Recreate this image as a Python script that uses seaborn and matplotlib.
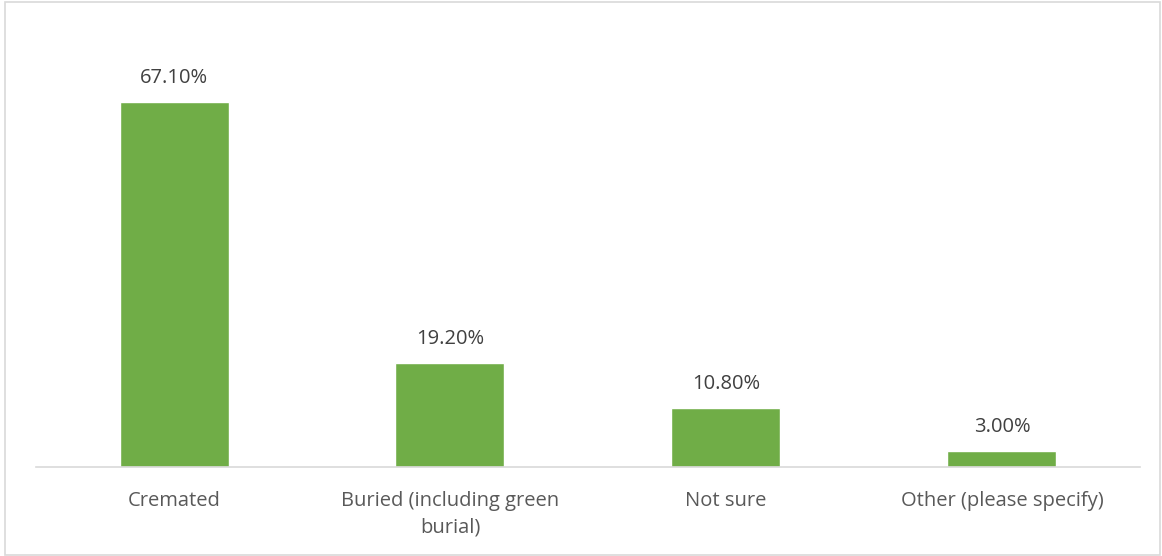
import matplotlib
matplotlib.use("Agg")
import matplotlib.pyplot as plt
import seaborn as sns
import pandas as pd
from matplotlib.patches import Rectangle

# 데이터
categories = ["Cremated", "Buried (including green\nburial)", "Not sure", "Other (please specify)"]
values = [67.1, 19.2, 10.8, 3.0]
value_labels = ["67.10%", "19.20%", "10.80%", "3.00%"]

sns.set_style("white")
plt.rcParams['font.family'] = ['Open Sans', 'DejaVu Sans']

df = pd.DataFrame({"category": categories, "value": values})

fig = plt.figure(figsize=(11.62, 5.56), dpi=100)
ax = fig.add_axes([0.031, 0.160, 0.950, 0.782])

sns.barplot(data=df, x="category", y="value", color="#70AD47", width=0.395,
            saturation=1, ax=ax)

ax.set_ylim(0, 80)
ax.set_xlim(-0.5, len(categories) - 0.5)
ax.set_xlabel("")
ax.set_ylabel("")
ax.set_yticks([])

for s in ["top", "right", "left"]:
    ax.spines[s].set_visible(False)
ax.spines["bottom"].set_color("#d9d9d9")
ax.spines["bottom"].set_linewidth(1.2)

ax.tick_params(axis="x", length=0, pad=17, labelsize=14.5, labelcolor="#595959")
for lbl in ax.get_xticklabels():
    lbl.set_verticalalignment("top")
    lbl.set_linespacing(1.45)

# 막대 위 값 표시
for bar, txt in zip(ax.patches, value_labels):
    ax.annotate(txt, (bar.get_x() + bar.get_width() / 2, bar.get_height()),
                xytext=(0, 24), textcoords="offset pixels",
                ha="center", va="center", fontsize=14.5, color="#404040")

# 차트 테두리
fig.patches.append(Rectangle((0.004, 0.002), 0.994, 0.994, transform=fig.transFigure,
                             fill=False, edgecolor="#d9d9d9", linewidth=1.2))

fig.savefig("out.png", dpi=100)
